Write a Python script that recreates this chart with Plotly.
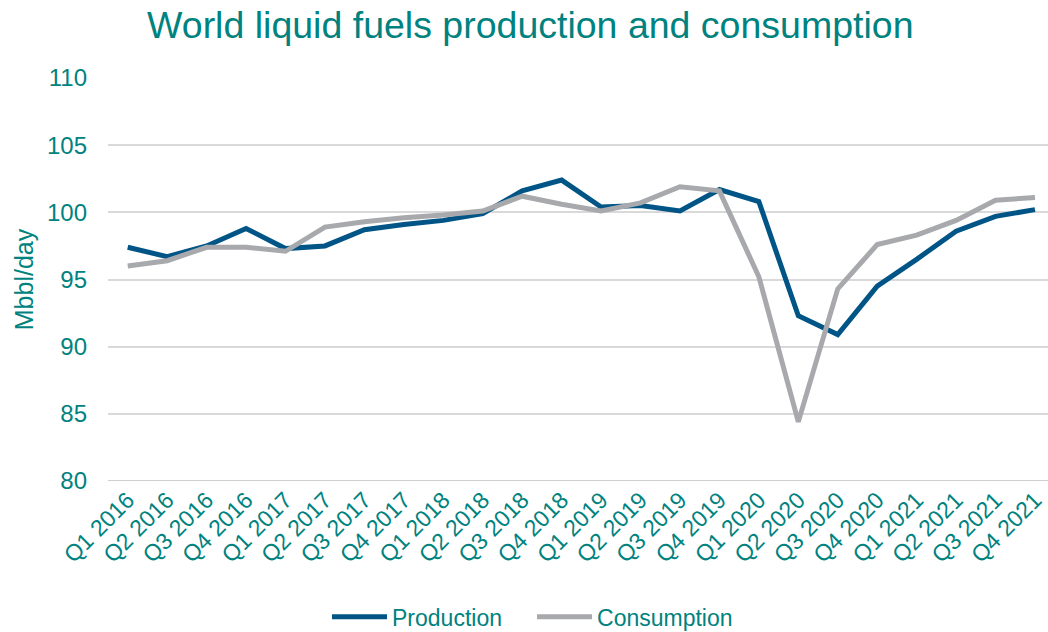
import plotly.graph_objects as go

quarters = [f"Q{q} {y}" for y in range(2016, 2022) for q in range(1, 5)]
production = [97.4, 96.7, 97.5, 98.8, 97.3, 97.5, 98.7, 99.1, 99.4, 99.9, 101.6, 102.4,
              100.4, 100.5, 100.1, 101.7, 100.8, 92.3, 90.9, 94.5, 96.5, 98.6, 99.7, 100.2]
consumption = [96.0, 96.4, 97.4, 97.4, 97.1, 98.9, 99.3, 99.6, 99.8, 100.1, 101.2, 100.6,
               100.1, 100.7, 101.9, 101.6, 95.2, 84.4, 94.3, 97.6, 98.3, 99.4, 100.9, 101.1]
y_ticks = [80, 85, 90, 95, 100, 105, 110]

teal = "#00827F"
fig = go.Figure()
fig.add_trace(go.Scatter(x=quarters, y=production, name="Production", mode="lines",
                         line=dict(color="#005586", width=5)))
fig.add_trace(go.Scatter(x=quarters, y=consumption, name="Consumption", mode="lines",
                         line=dict(color="#A7A9AC", width=5)))

fig.update_layout(
    width=1048, height=632,
    paper_bgcolor="white", plot_bgcolor="white",
    margin=dict(l=108, r=0, t=78, b=151, autoexpand=False),
    font=dict(family="Liberation Sans, Arial, sans-serif", color=teal),
    title=dict(text="World liquid fuels production and consumption", x=0.506, xanchor="center",
               y=0.960, yanchor="middle", font=dict(size=37.5, color=teal)),
    xaxis=dict(tickangle=-45, tickfont=dict(size=23, color=teal), showgrid=False,
               ticks="", showline=False, range=[-0.5, 23.33], automargin=False),
    yaxis=dict(range=[80, 110], tickvals=y_ticks, tickfont=dict(size=24, color=teal),
               gridcolor="#D9D9D9", gridwidth=1.5, zeroline=False, showline=False,
               ticks="", ticklabelstandoff=20, automargin=False,
               title=dict(text="Mbbl/day", font=dict(size=25, color=teal), standoff=6)),
    legend=dict(orientation="h", x=0.233, xanchor="left", y=-0.337, yanchor="middle",
                font=dict(size=23, color=teal), itemwidth=55, entrywidth=135),
    showlegend=True,
)
fig.add_shape(type="line", xref="paper", yref="y", x0=0, x1=1, y0=80, y1=80,
              line=dict(color="#BFBFBF", width=1.5))
fig.write_html("out.html", config={"displayModeBar": False},
               post_script="document.body.style.margin='0';")
